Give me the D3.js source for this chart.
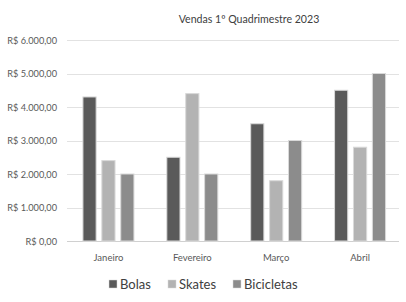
<!DOCTYPE html>
<html><head><meta charset="utf-8">
<script src="https://cdn.jsdelivr.net/npm/d3@7"></script>
<style>
body{margin:0;background:#fff;}
text{font-family:Lato, "Open Sans", sans-serif;}
</style></head>
<body><svg id="c" width="406" height="302"></svg>
<script>
const title = "Vendas 1º Quadrimestre 2023";
const months = ["Janeiro","Fevereiro","Março","Abril"];
const seriesNames = ["Bolas","Skates","Bicicletas"];
const bolas = [4300, 2500, 3500, 4500];
const skates = [2400, 4400, 1800, 2800];
const bicicletas = [2000, 2000, 3000, 5000];
const yTicks = [0,1000,2000,3000,4000,5000,6000];
const colors = ["#5a5a5a","#b3b3b3","#8c8c8c"];

const seriesVals = [bolas, skates, bicicletas];
const svg = d3.select("#c");
const x = d3.scaleBand().domain(months).range([66.5, 402]).paddingInner(0).paddingOuter(0);
const y = d3.scaleLinear().domain([0,6000]).range([241,40]);
const inner = d3.scaleBand().domain(seriesNames).range([0, 52]).paddingInner(0.25);
const fmt = v => "R$ " + d3.format(",.2f")(v).replace(/,/g,"#").replace(/\./g,",").replace(/#/g,".");

// gridlines
svg.append("g").selectAll("line").data(yTicks).join("line")
  .attr("x1",67).attr("x2",399)
  .attr("y1",d=>Math.round(y(d))+0.5).attr("y2",d=>Math.round(y(d))+0.5)
  .attr("stroke",d=>d===0?"#d0d0d0":"#e2e2e2").attr("stroke-width",1);

// y labels
svg.append("g").selectAll("text").data(yTicks).join("text")
  .attr("x",57).attr("y",d=>y(d)+3.5).attr("text-anchor","end")
  .attr("font-size","9.2px").attr("fill","#595959").text(fmt);

// x labels
svg.append("g").selectAll("text").data(months).join("text")
  .attr("x",d=>x(d)+x.bandwidth()/2).attr("y",261).attr("text-anchor","middle")
  .attr("font-size","9.5px").attr("fill","#595959").text(d=>d);

// bars
const groupW = 52;
seriesNames.forEach((s,si)=>{
  svg.append("g").selectAll("rect").data(months).join("rect")
    .attr("x",(d)=>x(d)+(x.bandwidth()-groupW)/2+inner(s)+0.5)
    .attr("width",inner.bandwidth()-1)
    .attr("y",(d,i)=>y(seriesVals[si][i]))
    .attr("height",(d,i)=>y(0)-y(seriesVals[si][i]))
    .attr("fill",colors[si]).attr("stroke","#d9d9d9").attr("stroke-width",1);
});

// title
svg.append("text").attr("x",249).attr("y",22.5).attr("text-anchor","middle")
  .attr("font-size","10.6px").attr("fill","#404040").text(title);

// legend
const legX = [109, 168, 233];
const lg = svg.append("g").selectAll("g").data(seriesNames).join("g")
  .attr("transform",(d,i)=>`translate(${legX[i]},280)`);
lg.append("rect").attr("width",8).attr("height",8).attr("fill",(d,i)=>colors[i]).attr("stroke","#d9d9d9").attr("stroke-width",0.5);
lg.append("text").attr("x",11).attr("y",8.5).attr("font-size","13px").attr("fill","#404040").text(d=>d);
</script></body></html>
